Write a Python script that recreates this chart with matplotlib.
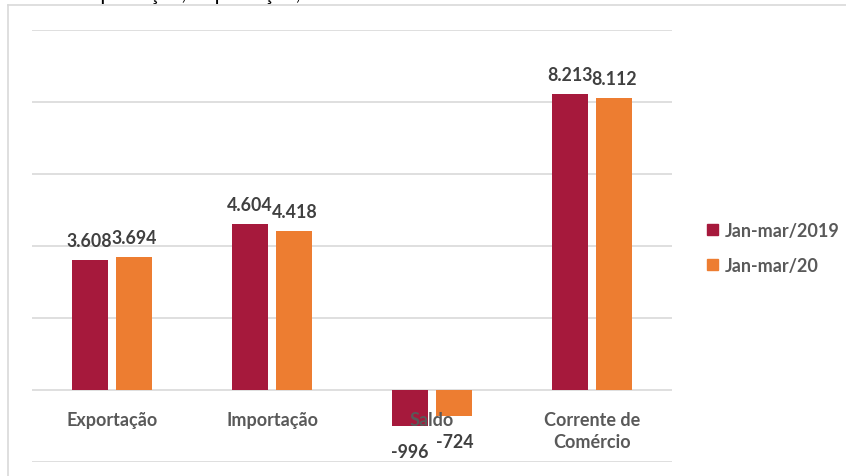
import numpy as np
import matplotlib.pyplot as plt
from matplotlib.lines import Line2D
from matplotlib.patches import Patch

categorias = ['Exportação', 'Importação', 'Saldo', 'Corrente de\nComércio']
jan_mar_2019 = [3608, 4604, -996, 8213]
jan_mar_20 = [3694, 4418, -724, 8112]
rotulos_2019 = ['3.608', '4.604', '-996', '8.213']
rotulos_20 = ['3.694', '4.418', '-724', '8.112']

vermelho = '#A6193C'
laranja = '#ED7D31'
cinza_texto = '#595959'
cinza_valor = '#404040'
fonte = ['Lato', 'DejaVu Sans']

W, H = 846, 477
fig = plt.figure(figsize=(W / 100, H / 100), dpi=100)
ax = fig.add_axes([32 / W, 1 - 463 / H, 640 / W, 432 / H])

x = np.arange(len(categorias))
larg = 0.225
desl = 0.14
b1 = ax.bar(x - desl, jan_mar_2019, larg, color=vermelho, label='Jan-mar/2019')
b2 = ax.bar(x + desl, jan_mar_20, larg, color=laranja, label='Jan-mar/20')

ax.set_xlim(-0.5, 3.5)
ax.set_ylim(-2000, 10000)
ax.set_yticks(np.arange(-2000, 10001, 2000))
ax.yaxis.grid(True, color='#d9d9d9', lw=1.2)
ax.set_axisbelow(True)
ax.tick_params(left=False, labelleft=False, bottom=False, labelbottom=False)
for s in ax.spines.values():
    s.set_visible(False)

# valores
for barras, rot in ((b1, rotulos_2019), (b2, rotulos_20)):
    for b, r in zip(barras, rot):
        h = b.get_height()
        cx = b.get_x() + b.get_width() / 2
        if h >= 0:
            ax.annotate(r, (cx, h), xytext=(0, 8), textcoords='offset points',
                        ha='center', va='bottom', fontsize=12.8, fontweight='bold',
                        color=cinza_valor, family=fonte)
        else:
            ax.annotate(r, (cx, h), xytext=(0, -12), textcoords='offset points',
                        ha='center', va='top', fontsize=12.8, fontweight='bold',
                        color=cinza_valor, family=fonte)

# nomes das categorias
for xi, c in zip(x, categorias):
    ax.annotate(c, (xi, 0), xytext=(0, -15), textcoords='offset points',
                ha='center', va='top', fontsize=13, fontweight='bold',
                color=cinza_texto, family=fonte, linespacing=1.35)

# legenda
leg = [Patch(color=vermelho, label='Jan-mar/2019'), Patch(color=laranja, label='Jan-mar/20')]
fig.legend(handles=leg, loc='center left', bbox_to_anchor=(707 / W, 1 - 249 / H),
           frameon=False, borderpad=0, borderaxespad=0,
           handlelength=0.6, handleheight=0.6, handletextpad=0.4,
           labelspacing=1.0, prop={'family': fonte, 'weight': 'bold', 'size': 13},
           labelcolor=cinza_texto)

# moldura e título cortado
fig.add_artist(Line2D([8 / W, 8 / W], [0, 1 - 6 / H], color='#d9d9d9', lw=1.2))
fig.add_artist(Line2D([8 / W, 1], [1 - 6 / H, 1 - 6 / H], color='#d9d9d9', lw=1.2))
fig.text(78 / W, 1 + 0.5 / H, 'Exportação, Importação, Saldo e Corrente de Comércio',
         fontsize=15, family=fonte, color='black', va='baseline')

fig.savefig('out.png', dpi=100)
